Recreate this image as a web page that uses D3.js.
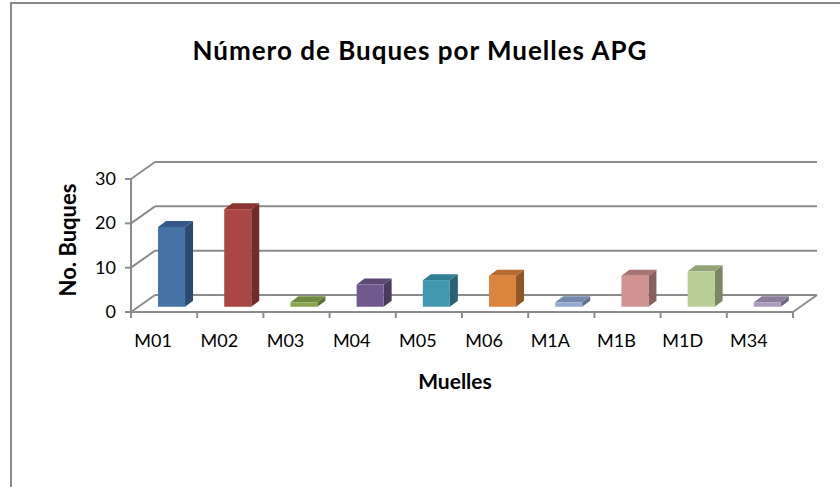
<!DOCTYPE html>
<html><head><meta charset="utf-8">
<script src="https://cdn.jsdelivr.net/npm/d3@7"></script>
<style>html,body{margin:0;padding:0;background:#fff;}svg{display:block;font-family:Lato,"Open Sans",sans-serif;}</style>
</head><body><svg id="c" width="840" height="487"></svg>
<script>
const categories = ["M01","M02","M03","M04","M05","M06","M1A","M1B","M1D","M34"];
const values = [18,22,1,5,6,7,1,7,8,1];
const yTicks = [0,10,20,30];
const frontColors = ["#4573a8","#aa4644","#89a54e","#71588f","#4198af","#db843d","#93a9cf","#d19392","#b9cd96","#a99bbd"];
const sideColors  = ["#2c4a6e","#6e2c2a","#5a6d33","#4a3a5e","#2a6272","#8f5628","#60708a","#896060","#7a8762","#6f667c"];
const topColors   = ["#36598a","#8a3532","#6e8a3d","#5c4775","#317f93","#b86c2f","#7589ad","#a87473","#93a577","#8a7e9c"];
const title = "Número de Buques por Muelles APG";
const yTitle = "No. Buques";
const xTitle = "Muelles";

const svg = d3.select("#c");
const DX = 24, DY = -17;           // wall depth
const F = 0.31;                    // bar depth position
const BW = 27, BDX = 8, BDY = -6;  // bar width & thickness
const x = d3.scaleBand().domain(categories).range([131, 793]).padding(0);
const y = d3.scaleLinear().domain([0, 30]).range([312, 179]);
const grid = "#8c8c8c";

// outer border
svg.append("path").attr("d","M11,487 L11,3 L840,3").attr("fill","none").attr("stroke","#8a8a8a").attr("stroke-width",2);

// title
svg.append("text").attr("x",420).attr("y",60).attr("text-anchor","middle")
  .attr("font-size",26).attr("font-weight","bold").attr("letter-spacing",1).text(title);

const g = svg.append("g");
yTicks.forEach(t => {
  g.append("line").attr("x1",131+DX).attr("x2",793+DX).attr("y1",y(t)+DY).attr("y2",y(t)+DY)
    .attr("stroke",grid).attr("stroke-width",2);
  g.append("line").attr("x1",131).attr("x2",131+DX).attr("y1",y(t)).attr("y2",y(t)+DY)
    .attr("stroke",grid).attr("stroke-width",2);
});
g.append("line").attr("x1",131).attr("x2",793).attr("y1",y(0)).attr("y2",y(0)).attr("stroke",grid).attr("stroke-width",2);
g.append("line").attr("x1",793).attr("x2",793+DX).attr("y1",y(0)).attr("y2",y(0)+DY).attr("stroke",grid).attr("stroke-width",2);
g.append("line").attr("x1",131).attr("x2",131).attr("y1",y(30)).attr("y2",y(0)).attr("stroke",grid).attr("stroke-width",2);
yTicks.forEach(t => {
  g.append("line").attr("x1",125).attr("x2",131).attr("y1",y(t)).attr("y2",y(t)).attr("stroke",grid).attr("stroke-width",2);
  svg.append("text").attr("x",116).attr("y",y(t)+6).attr("text-anchor","end").attr("font-size",18).text(t);
});
categories.concat(["_end"]).forEach((c,i) => {
  const xx = 131 + i * x.bandwidth();
  g.append("line").attr("x1",xx).attr("x2",xx).attr("y1",y(0)).attr("y2",y(0)+6).attr("stroke",grid).attr("stroke-width",2);
});
categories.forEach(c => {
  svg.append("text").attr("x",x(c)+x.bandwidth()/2-11).attr("y",347).attr("text-anchor","middle").attr("font-size",18).text(c);
});

const ox = F*DX, oy = F*DY;
categories.forEach((c,i) => {
  const x0 = x(c) + x.bandwidth()/2 + ox - BW/2;
  const x1 = x0 + BW;
  const yb = y(0) + oy;
  const yt = y(values[i]) + oy;
  const bg = g.append("g");
  bg.append("path").attr("d",`M${x1},${yb} L${x1+BDX},${yb+BDY} L${x1+BDX},${yt+BDY} L${x1},${yt} Z`).attr("fill",sideColors[i]);
  bg.append("path").attr("d",`M${x0},${yt} L${x0+BDX},${yt+BDY} L${x1+BDX},${yt+BDY} L${x1},${yt} Z`).attr("fill",topColors[i]);
  bg.append("rect").attr("x",x0).attr("y",yt).attr("width",BW).attr("height",yb-yt).attr("fill",frontColors[i]);
});

svg.append("text").attr("transform","translate(76,240) rotate(-90)").attr("text-anchor","middle")
  .attr("font-size",22).attr("font-weight","bold").text(yTitle);
svg.append("text").attr("x",455).attr("y",389).attr("text-anchor","middle")
  .attr("font-size",21).attr("font-weight","bold").text(xTitle);
</script></body></html>
